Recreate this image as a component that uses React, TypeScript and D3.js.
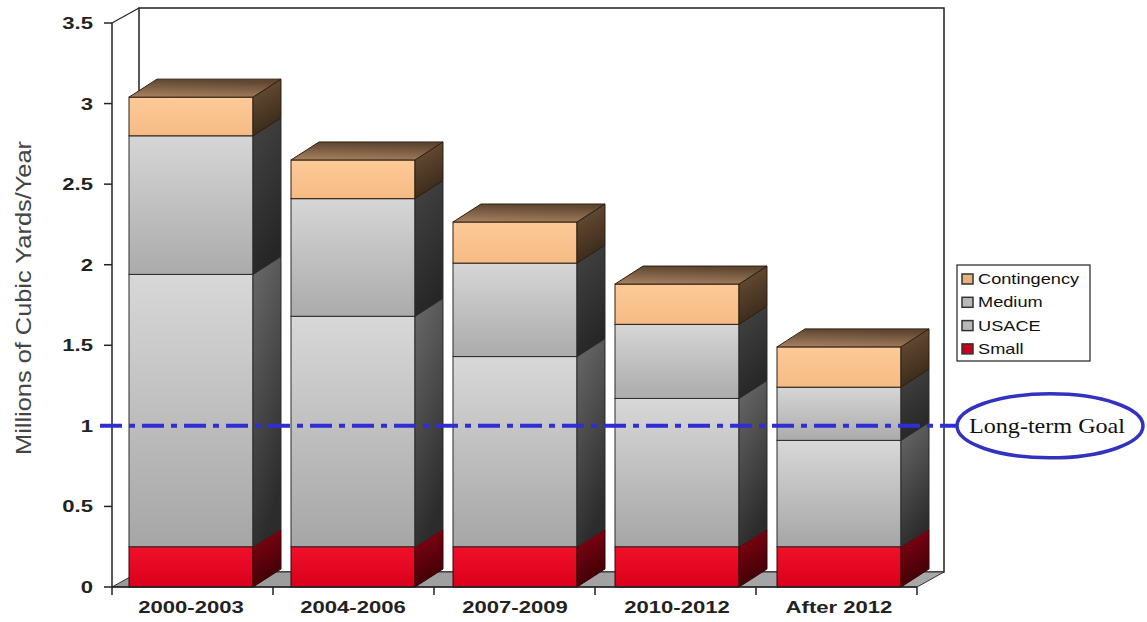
import React from "react";
import * as d3 from "d3";

const categories = ["2000-2003", "2004-2006", "2007-2009", "2010-2012", "After 2012"];
const seriesNames = ["Small", "USACE", "Medium", "Contingency"];
const small = [0.25, 0.25, 0.25, 0.25, 0.25];
const usace = [1.69, 1.43, 1.18, 0.92, 0.66];
const medium = [0.86, 0.73, 0.58, 0.46, 0.33];
const contingency = [0.24, 0.24, 0.255, 0.25, 0.25];
const yTicks = [0, 0.5, 1, 1.5, 2, 2.5, 3, 3.5];
const goalValue = 1;
const legendOrder = ["Contingency", "Medium", "USACE", "Small"];

const W = 1147;
const H = 622;
const X0 = 112;
const X1 = 917;
const Y0 = 587;
const Y1 = 23;
const BDX = 28;
const BDY = -18;
const WDX = 27;
const WDY = -15;
const FONT = "'Liberation Sans', Arial, sans-serif";

const styles: Record<string, any> = {
  Small: { f0: "#f2102a", f1: "#d8001a", s0: "#8c0414", s1: "#3e0006", stroke: "#3a0008", sw: "#c8001e" },
  USACE: { f0: "#d8d8d8", f1: "#a6a6a6", s0: "#6a6a6a", s1: "#2c2c2c", stroke: "#2a2a2a", sw: "#b8b8b8" },
  Medium: { f0: "#d6d6d6", f1: "#ababab", s0: "#444444", s1: "#262626", stroke: "#2a2a2a", sw: "#b8b8b8" },
  Contingency: { f0: "#fcca98", f1: "#f6bb84", s0: "#6e5238", s1: "#3a2a1a", stroke: "#2e1e10", sw: "#e8b07a", t0: "#a98262", t1: "#5e4630" },
};

const seriesData: Record<string, number[]> = {
  Small: small,
  USACE: usace,
  Medium: medium,
  Contingency: contingency,
};

function StretchText(props: any) {
  const { x, y, sx = 1.3, children, ...rest } = props;
  return (
    <text transform={`translate(${x},${y}) scale(${sx},1)`} {...rest}>
      {children}
    </text>
  );
}

export default function App() {
  const x = d3.scaleBand<string>().domain(categories).range([X0 - 2, X1 + 3]).paddingInner(0.2346).paddingOuter(0.1173);
  const y = d3.scaleLinear().domain([0, 3.5]).range([Y0, Y1]);
  const step = x.step();
  const bw = x.bandwidth();

  const stacked = d3.stack<number>().keys(seriesNames).value((i, k) => seriesData[k][i])(d3.range(categories.length));

  const pts = (arr: number[][]) => arr.map((p) => p.join(",")).join(" ");

  const bars = categories.map((c, i) => {
    const x0 = x(c)!;
    const x1 = x0 + bw;
    const parts: any[] = [];
    stacked.forEach((layer, li) => {
      const key = layer.key;
      const st = styles[key];
      const yb = y(layer[i][0]);
      const yt = y(layer[i][1]);
      parts.push(
        <rect key={`f${key}`} x={x0} y={yt} width={bw} height={yb - yt} fill={`url(#gf-${key})`} stroke={st.stroke} strokeWidth={1} />
      );
      parts.push(
        <polygon
          key={`s${key}`}
          points={pts([[x1, yt], [x1 + BDX, yt + BDY], [x1 + BDX, yb + BDY], [x1, yb]])}
          fill={`url(#gs-${key})`}
          stroke={st.stroke}
          strokeWidth={1}
        />
      );
      if (li === stacked.length - 1) {
        parts.push(
          <polygon
            key={`t${key}`}
            points={pts([[x0, yt], [x0 + BDX, yt + BDY], [x1 + BDX, yt + BDY], [x1, yt]])}
            fill={`url(#gt-${key})`}
            stroke={st.stroke}
            strokeWidth={1}
          />
        );
      }
    });
    return <g key={c}>{parts}</g>;
  });

  const gy = y(goalValue);
  const boundaries = d3.range(categories.length + 1).map((i) => X0 + (i * (X1 - X0)) / categories.length);

  return (
    <svg width={W} height={H} style={{ position: "absolute", left: 0, top: 0, background: "#fff" }}>
      <defs>
        {seriesNames.map((k) => {
          const st = styles[k];
          return (
            <React.Fragment key={k}>
              <linearGradient id={`gf-${k}`} x1="0" y1="0" x2="0" y2="1">
                <stop offset="0" stopColor={st.f0} />
                <stop offset="1" stopColor={st.f1} />
              </linearGradient>
              <linearGradient id={`gs-${k}`} x1="0" y1="0" x2="0.3" y2="1">
                <stop offset="0" stopColor={st.s0} />
                <stop offset="1" stopColor={st.s1} />
              </linearGradient>
              {st.t0 && (
                <linearGradient id={`gt-${k}`} x1="0" y1="1" x2="0.2" y2="0">
                  <stop offset="0" stopColor={st.t0} />
                  <stop offset="1" stopColor={st.t1} />
                </linearGradient>
              )}
            </React.Fragment>
          );
        })}
        <linearGradient id="floor" x1="0" y1="0" x2="1" y2="0">
          <stop offset="0" stopColor="#9a9a9a" />
          <stop offset="1" stopColor="#a8a8a8" />
        </linearGradient>
      </defs>

      {/* back wall */}
      <polygon points={pts([[X0 + WDX, Y1 + WDY], [X1 + WDX, Y1 + WDY], [X1 + WDX, Y0 + WDY], [X0 + WDX, Y0 + WDY]])} fill="#fff" stroke="#222" strokeWidth={1.5} />
      {/* left wall edge */}
      <line x1={X0} y1={Y1} x2={X0 + WDX} y2={Y1 + WDY} stroke="#222" strokeWidth={1.2} />
      {/* floor */}
      <polygon points={pts([[X0, Y0], [X1, Y0], [X1 + WDX, Y0 + WDY], [X0 + WDX, Y0 + WDY]])} fill="url(#floor)" stroke="#333" strokeWidth={1} />

      {bars}

      {/* y axis */}
      <line x1={X0} y1={Y1} x2={X0} y2={Y0} stroke="#222" strokeWidth={1.5} />
      {yTicks.map((t) => (
        <g key={t}>
          <line x1={X0 - 8} x2={X0} y1={y(t)} y2={y(t)} stroke="#222" strokeWidth={1.5} />
          <StretchText x={93} y={y(t) + 6} textAnchor="end" fontFamily={FONT} fontWeight="bold" fontSize={17} fill="#222">
            {String(t)}
          </StretchText>
        </g>
      ))}
      {/* x axis */}
      <line x1={X0} y1={Y0} x2={X1} y2={Y0} stroke="#222" strokeWidth={1.5} />
      {boundaries.map((bx, i) => (
        <line key={i} x1={bx} x2={bx} y1={Y0} y2={Y0 + 8} stroke="#222" strokeWidth={1.5} />
      ))}
      {categories.map((c) => (
        <StretchText key={c} x={x(c)! + bw / 2} y={613} textAnchor="middle" fontFamily={FONT} fontWeight="bold" fontSize={17} fill="#222">
          {c}
        </StretchText>
      ))}

      {/* y title */}
      <text transform={`translate(31,298) rotate(-90)`} textAnchor="middle" fontFamily={FONT} fontSize={22} fill="#444" textLength={314} lengthAdjust="spacingAndGlyphs">
        Millions of Cubic Yards/Year
      </text>

      {/* goal line */}
      <line x1={100} x2={957} y1={gy} y2={gy} stroke="#2e2ed2" strokeWidth={4} strokeDasharray="22,7,6,7" />
      <ellipse cx={1050} cy={gy} rx={93} ry={32} fill="none" stroke="#3232c0" strokeWidth={3.5} />
      <text x={969} y={gy + 7} fontFamily="'Liberation Serif', 'Times New Roman', serif" fontSize={21} fill="#111" textLength={156} lengthAdjust="spacingAndGlyphs">
        Long-term Goal
      </text>

      {/* legend */}
      <rect x={957} y={265} width={133} height={96} fill="#fff" stroke="#222" strokeWidth={1.2} />
      {legendOrder.map((k, i) => {
        const st = styles[k];
        const ly = 279 + i * 23.3;
        return (
          <g key={k}>
            <rect x={962} y={ly - 5} width={11} height={10} fill={st.sw} stroke="#333" strokeWidth={1.5} />
            <StretchText x={978} y={ly + 5} fontFamily={FONT} fontSize={14} fill="#111" sx={1.3}>
              {k}
            </StretchText>
          </g>
        );
      })}
    </svg>
  );
}
